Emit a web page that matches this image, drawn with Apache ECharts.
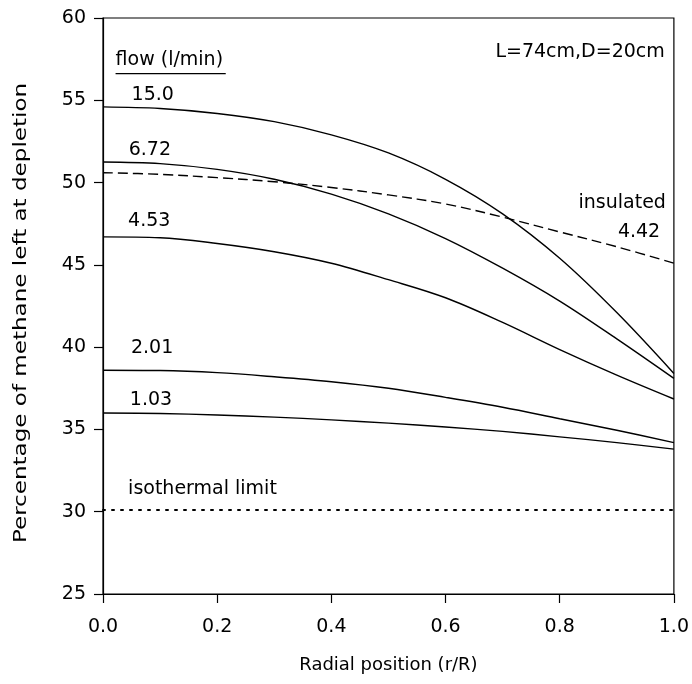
<!DOCTYPE html>
<html>
<head>
<meta charset="utf-8">
<script src="https://cdn.jsdelivr.net/npm/echarts@6/dist/echarts.min.js"></script>
<style>
  html, body { margin: 0; padding: 0; background: #fff; }
  #chart { width: 692px; height: 684px; }
</style>
</head>
<body>
<div id="chart"></div>
<script>
// Radial positions (r/R) at which each profile is sampled
const radial = [0.0, 0.1, 0.2, 0.3, 0.4, 0.5, 0.6, 0.7, 0.8, 0.9, 1.0];

// Methane left at depletion (%) for each flow rate (l/min)
const flow15_0  = [54.6, 54.5, 54.2, 53.7, 52.9, 51.8, 50.2, 48.1, 45.4, 42.1, 38.4];
const flow6_72  = [51.25, 51.15, 50.8, 50.2, 49.3, 48.1, 46.6, 44.8, 42.8, 40.5, 38.1];
const flow4_53  = [46.7, 46.65, 46.3, 45.8, 45.1, 44.1, 43.0, 41.5, 39.85, 38.3, 36.85];
const flow2_01  = [38.6, 38.58, 38.45, 38.2, 37.9, 37.5, 36.95, 36.35, 35.65, 34.95, 34.2];
const flow1_03  = [36.0, 35.97, 35.88, 35.75, 35.58, 35.38, 35.15, 34.88, 34.55, 34.2, 33.8];
const insulated4_42 = [50.6, 50.5, 50.3, 50.05, 49.7, 49.25, 48.7, 47.9, 47.0, 46.1, 45.1];
const isothermal = [30.1, 30.1];
const isothermalX = [0.0, 1.0];

// Axis ticks
const xTicks = [0.0, 0.2, 0.4, 0.6, 0.8, 1.0];
const yTicks = [25, 30, 35, 40, 45, 50, 55, 60];

// Annotations placed in data coordinates
const noteText  = ['flow (l/min)', '15.0', '6.72', '4.53', '2.01', '1.03', 'isothermal limit', 'L=74cm,D=20cm', 'insulated', '4.42'];
const noteX     = [0.022, 0.050, 0.045, 0.044, 0.049, 0.047, 0.044, 0.984, 0.986, 0.976];
const noteY     = [57.45, 55.32, 51.98, 47.67, 39.95, 36.79, 31.35, 57.93, 48.76, 47.0];
const noteAlign = ['left', 'left', 'left', 'left', 'left', 'left', 'left', 'right', 'right', 'right'];
// Rule under the legend heading
const ruleX = [0.022, 0.215];
const ruleY = [56.62, 56.62];

const FONT = 'DejaVu Sans';
const INK = '#000';

function pairs(xs, ys) { return xs.map((x, i) => [x, ys[i]]); }

function profile(name, values, dashed) {
  return {
    name: name,
    type: 'line',
    data: pairs(radial, values),
    smooth: 0.35,
    symbol: 'none',
    silent: true,
    lineStyle: { color: INK, width: 1.4, type: dashed ? [10, 5] : 'solid' }
  };
}

const chart = echarts.init(document.getElementById('chart'), null, { renderer: 'canvas' });

chart.setOption({
  animation: false,
  backgroundColor: '#fff',
  textStyle: { fontFamily: FONT, color: INK },
  grid: {
    left: 103, right: 16, top: 18, bottom: 90,
    show: true, borderColor: INK, borderWidth: 1.2, backgroundColor: 'transparent'
  },
  graphic: [
    {
      // y-axis title, drawn as a stretched vertical caption
      type: 'text',
      x: 21, y: 313,
      rotation: Math.PI / 2,
      scaleX: 1.28,
      style: {
        text: 'Percentage of methane left at depletion',
        font: '18px "DejaVu Sans"',
        fill: INK,
        align: 'center',
        verticalAlign: 'middle'
      }
    }
  ],
  xAxis: {
    type: 'value',
    min: xTicks[0], max: xTicks[xTicks.length - 1], interval: 0.2,
    name: 'Radial position (r/R)',
    nameLocation: 'middle', nameGap: 62,
    nameTextStyle: { fontFamily: FONT, fontSize: 18, color: INK },
    axisLine: { show: true, onZero: false, lineStyle: { color: INK, width: 1.2 } },
    axisTick: { show: true, inside: false, length: 9, lineStyle: { color: INK, width: 1.2 } },
    axisLabel: { fontFamily: FONT, fontSize: 19, color: INK, margin: 24,
                 formatter: v => v.toFixed(1) },
    splitLine: { show: false }
  },
  yAxis: {
    type: 'value',
    min: yTicks[0], max: yTicks[yTicks.length - 1], interval: 5,
    axisLine: { show: true, onZero: false, lineStyle: { color: INK, width: 1.2 } },
    axisTick: { show: true, inside: false, length: 9, lineStyle: { color: INK, width: 1.2 } },
    axisLabel: { fontFamily: FONT, fontSize: 19, color: INK, margin: 17 },
    splitLine: { show: false }
  },
  series: [
    profile('15.0', flow15_0, false),
    profile('6.72', flow6_72, false),
    profile('4.53', flow4_53, false),
    profile('2.01', flow2_01, false),
    profile('1.03', flow1_03, false),
    profile('insulated 4.42', insulated4_42, true),
    {
      name: 'isothermal limit',
      type: 'line',
      data: pairs(isothermalX, isothermal),
      symbol: 'none',
      silent: true,
      lineStyle: { color: INK, width: 2, type: [2, 7], cap: 'round' }
    },
    {
      name: 'legend rule',
      type: 'line',
      data: pairs(ruleX, ruleY),
      symbol: 'none',
      silent: true,
      lineStyle: { color: INK, width: 1.4 }
    },
    {
      name: 'notes',
      type: 'scatter',
      symbolSize: 0,
      silent: true,
      itemStyle: { opacity: 1 },
      data: noteText.map((t, i) => ({
        value: [noteX[i], noteY[i]],
        label: {
          show: true,
          position: 'inside',
          formatter: t,
          align: noteAlign[i],
          verticalAlign: 'middle',
          fontFamily: FONT,
          fontSize: 19,
          color: INK,
          opacity: 1
        }
      }))
    }
  ]
});
</script>
</body>
</html>
